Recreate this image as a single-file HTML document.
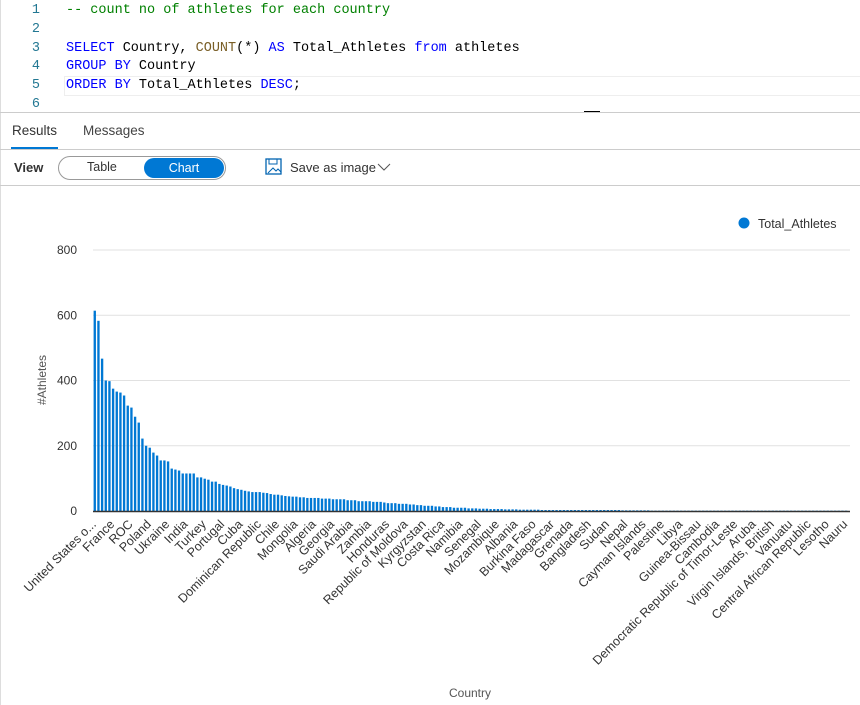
<!DOCTYPE html>
<html><head><meta charset="utf-8">
<style>
body{margin:0;width:860px;height:705px;background:#fff;position:relative;overflow:hidden;font-family:"Liberation Sans",sans-serif;}
.abs{position:absolute;}
.code{font-family:"Liberation Mono",monospace;font-size:13.5px;white-space:pre;}
.ln{color:#237893;width:40px;text-align:right;left:0;}
.kw{color:#0000ff}.fn{color:#795e26}.cm{color:#008000}
</style></head><body>
<div class="abs" style="left:0;top:0;width:1px;height:705px;background:#ddd"></div>
<div class="abs" style="left:0;top:0;width:860px;height:112px">
 <div class="abs" style="left:64px;top:76px;width:796px;height:18px;border:1px solid #eee"></div>
 <div class="abs code ln" style="top:3px">1</div><div class="abs code cm" style="left:66px;top:3px">-- count no of athletes for each country</div>
 <div class="abs code ln" style="top:22px">2</div>
 <div class="abs code ln" style="top:41px">3</div><div class="abs code" style="left:66px;top:41px"><span class="kw">SELECT</span> Country, <span class="fn">COUNT</span>(*) <span class="kw">AS</span> Total_Athletes <span class="kw">from</span> athletes</div>
 <div class="abs code ln" style="top:59px">4</div><div class="abs code" style="left:66px;top:59px"><span class="kw">GROUP BY</span> Country</div>
 <div class="abs code ln" style="top:78px">5</div><div class="abs code" style="left:66px;top:78px"><span class="kw">ORDER BY</span> Total_Athletes <span class="kw">DESC</span>;</div>
 <div class="abs code ln" style="top:97px">6</div>
</div>
<div class="abs" style="left:584px;top:111px;width:16px;height:2px;background:#000"></div>
<div class="abs" style="left:0;top:112px;width:860px;height:1px;background:#ccc"></div>
<div class="abs" style="left:12px;top:123px;font-size:13.5px;color:#333">Results</div>
<div class="abs" style="left:11px;top:147px;width:47px;height:2px;background:#0078d4"></div>
<div class="abs" style="left:83px;top:123px;font-size:13.5px;color:#444">Messages</div>
<div class="abs" style="left:0;top:149px;width:860px;height:1px;background:#ccc"></div>
<div class="abs" style="left:14px;top:160px;font-size:13px;color:#333;font-weight:bold">View</div>
<div class="abs" style="left:58px;top:156px;width:166px;height:22px;border:1px solid #999;border-radius:12px"></div>
<div class="abs" style="left:87px;top:160px;font-size:12.5px;color:#333">Table</div>
<div class="abs" style="left:144px;top:158px;width:80px;height:20px;background:#0078d4;border-radius:11px;color:#fff;font-size:12.5px;text-align:center;line-height:20px">Chart</div>
<svg class="abs" style="left:265px;top:158px" width="18" height="18"><rect x="1" y="1" width="15" height="15" fill="none" stroke="#0063b1" stroke-width="1.3"/><rect x="4" y="1" width="8" height="5" fill="none" stroke="#0063b1"/><path d="M3 15 L8 10 L11 13 L13 11 L16 14" fill="none" stroke="#0063b1"/></svg>
<div class="abs" style="left:290px;top:160px;font-size:13px;color:#333">Save as image</div>
<svg class="abs" style="left:377px;top:162px" width="14" height="10"><path d="M1 2 L7 8 L13 2" fill="none" stroke="#555"/></svg>
<div class="abs" style="left:0;top:185px;width:860px;height:1px;background:#ccc"></div>

<svg id="chart" class="abs" style="left:0;top:0" width="860" height="705"></svg>
<script>
const yTicks=[0,200,400,600,800];
const values=[614,583,467,400,398,375,366,363,354,323,
317,289,271,222,200,194,179,170,155,155,
152,130,127,124,115,115,115,115,103,103,
99,96,90,90,83,80,78,75,70,67,
65,62,60,58,58,58,56,55,52,50,
50,48,46,45,44,44,42,42,40,40,
40,40,38,38,38,36,36,36,36,33,
33,33,30,30,30,30,28,28,28,26,
24,24,24,22,22,22,20,20,18,18,
16,16,16,14,14,12,12,12,10,10,
10,10,8,8,8,7,7,7,6,6,
6,6,5,5,5,5,4,4,4,4,
4,4,3,3,3,3,3,3,3,3,3,3,3,3,3,3,3,3,3,3,
3,3,3,3,2,2,2,2,2,2,2,2,1,1,1,1,1,1,1,1,
1,1,1,1,1,1,1,1,1,1,1,1,1,1,1,1,1,1,1,1,1,1,1,1,1,1,1,1,1,1,1,1,1,1,1,1,1,1,1,1,1,1,1,1,1,1];
const labelNames=["United States o...","France","ROC","Poland","Ukraine","India","Turkey","Portugal","Cuba","Dominican Republic","Chile","Mongolia","Algeria","Georgia","Saudi Arabia","Zambia","Honduras","Republic of Moldova","Kyrgyzstan","Costa Rica","Namibia","Senegal","Mozambique","Albania","Burkina Faso","Madagascar","Grenada","Bangladesh","Sudan","Nepal","Cayman Islands","Palestine","Libya","Guinea-Bissau","Cambodia","Democratic Republic of Timor-Leste","Aruba","Virgin Islands, British","Vanuatu","Central African Republic","Lesotho","Nauru"];
const NS="http://www.w3.org/2000/svg";
const svg=document.getElementById('chart');
const x0=93,x1=848,yBase=511,yTop=250,yMax=800;
const n=values.length;
const pitch=(x1-x0)/n;
function xPos(i){return x0+i*pitch;}
function yPos(v){return yBase-(v/yMax)*(yBase-yTop);}
function mk(t,a){const e=document.createElementNS(NS,t);for(const k in a)e.setAttribute(k,a[k]);svg.appendChild(e);return e;}
yTicks.forEach(t=>{
 if(t>0){const g=mk('line',{x1:x0,x2:850,y1:yPos(t),y2:yPos(t),stroke:'#e1e1e1','stroke-width':1});
 
 }
 const l=mk('text',{x:77,y:yPos(t)+4,'text-anchor':'end','font-size':12,fill:'#333','font-family':'Liberation Sans, sans-serif'});
 l.textContent=t;
 
 
});
values.forEach((v,i)=>{
 const r=mk('rect',{x:xPos(i)+0.6,y:yPos(v),width:pitch*0.64,height:yBase-yPos(v),fill:'#0078d4'});
 
 
});
const ax=mk('line',{x1:x0,x2:850,y1:yBase+0.5,y2:yBase+0.5,stroke:'#333','stroke-width':1.5});


const step=(n-1)/(labelNames.length-1);
labelNames.forEach((name,k)=>{
 const cx=xPos(Math.round(k*step))+pitch/2+2;
 const t=mk('text',{x:cx,y:yBase+14,'text-anchor':'end','font-size':12.5,fill:'#333','font-family':'Liberation Sans, sans-serif',transform:`rotate(-45 ${cx} ${yBase+14})`});
 t.textContent=name;
 
 
});
const yt=mk('text',{x:46,y:380,'text-anchor':'middle','font-size':12,fill:'#555','font-family':'Liberation Sans, sans-serif',transform:'rotate(-90 46 380)'});
yt.textContent='#Athletes';


const xt=mk('text',{x:470,y:697,'text-anchor':'middle','font-size':12,fill:'#555','font-family':'Liberation Sans, sans-serif'});
xt.textContent='Country';


const ld=mk('circle',{cx:744,cy:223,r:5.5,fill:'#0078d4'});


const lt=mk('text',{x:758,y:228,'font-size':12.5,fill:'#333','font-family':'Liberation Sans, sans-serif'});
lt.textContent='Total_Athletes';


</script>
</body></html>
